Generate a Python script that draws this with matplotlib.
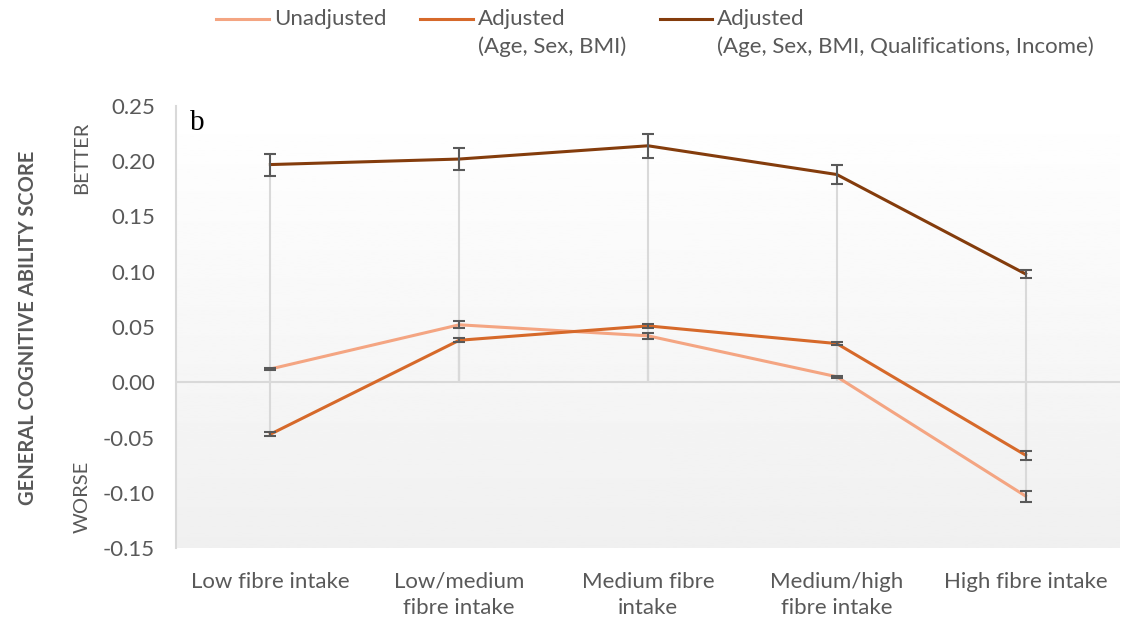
import numpy as np
import matplotlib
matplotlib.use("Agg")
import matplotlib.pyplot as plt
from matplotlib.lines import Line2D

plt.rcParams['font.family'] = ['Lato', 'DejaVu Sans']

categories = ["Low fibre intake", "Low/medium\nfibre intake", "Medium fibre\nintake",
              "Medium/high\nfibre intake", "High fibre intake"]
series_names = ["Unadjusted", "Adjusted\n(Age, Sex, BMI)",
                "Adjusted\n(Age, Sex, BMI, Qualifications, Income)"]
unadjusted = [0.012, 0.052, 0.042, 0.005, -0.103]
unadjusted_err = [0.001, 0.003, 0.003, 0.001, 0.005]
adj_basic = [-0.047, 0.038, 0.051, 0.035, -0.066]
adj_basic_err = [0.002, 0.002, 0.002, 0.001, 0.004]
adj_full = [0.197, 0.202, 0.214, 0.188, 0.098]
adj_full_err = [0.010, 0.010, 0.011, 0.009, 0.004]
yticks = [-0.15, -0.10, -0.05, 0.00, 0.05, 0.10, 0.15, 0.20, 0.25]

colors = ["#F4A582", "#D6692A", "#843C0C"]
text_col = "#595959"
grid_col = "#D9D9D9"

W, H = 1121, 624
fig = plt.figure(figsize=(W / 100, H / 100), dpi=100)
ax = fig.add_axes([176 / W, 1 - 548 / H, (1120 - 176) / W, (548 - 106) / H])

x = np.arange(len(categories))
ax.set_xlim(-0.5, len(categories) - 0.5)
ax.set_ylim(-0.15, 0.25)

# gradient background
grad = np.linspace(1.0, 0.94, 256).reshape(-1, 1)
ax.imshow(grad, cmap="gray", vmin=0, vmax=1, aspect="auto",
          extent=[-0.5, len(categories) - 0.5, -0.15, 0.25], zorder=0)

# drop lines
all_vals = [unadjusted, adj_basic, adj_full]
for vals in all_vals:
    ax.vlines(x, 0, vals, color=grid_col, lw=1.5, zorder=1)
ax.axhline(0, color=grid_col, lw=1.5, zorder=1)

errs = [unadjusted_err, adj_basic_err, adj_full_err]
for vals, err, c in zip(all_vals, errs, colors):
    ax.plot(x, vals, color=c, lw=2.2, zorder=3)
    ax.errorbar(x, vals, yerr=err, fmt="none", ecolor="#595959", elinewidth=1.5,
                capsize=4.5, capthick=1.5, zorder=4)

for s in ["top", "right", "bottom"]:
    ax.spines[s].set_visible(False)
ax.spines["left"].set_color(grid_col)
ax.spines["left"].set_linewidth(1.5)

ax.set_yticks(yticks)
ax.set_yticklabels([f"{v:.2f}" for v in yticks], fontsize=16, color=text_col)
ax.set_xticks(x)
ax.set_xticklabels(categories, fontsize=16, color=text_col, linespacing=1.4)
ax.tick_params(axis="y", length=0, pad=15)
ax.tick_params(axis="x", length=0, pad=17)

ax.text(0.015, 0.99, "b", transform=ax.transAxes, fontsize=21,
        family="Liberation Serif", va="top", ha="left", color="black")

fig.text(28 / W, 1 - 328 / H, "GENERAL COGNITIVE ABILITY SCORE", rotation=90,
         fontsize=14.5, fontweight="bold", color=text_col, ha="center", va="center")
fig.text(82 / W, 1 - 158 / H, "BETTER", rotation=90, fontsize=14.5,
         color=text_col, ha="center", va="center")
fig.text(82 / W, 1 - 497 / H, "WORSE", rotation=90, fontsize=14.5,
         color=text_col, ha="center", va="center")

# legend drawn by hand
leg_x = [(216, 269, 274), (420, 473, 478), (660, 712, 717)]
for (x0, x1, tx), name, c in zip(leg_x, series_names, colors):
    fig.add_artist(Line2D([x0 / W, x1 / W], [1 - 19 / H, 1 - 19 / H],
                          transform=fig.transFigure, color=c, lw=2.2))
    fig.text(tx / W, 1 - 9 / H, name, fontsize=16, color=text_col,
             ha="left", va="top", linespacing=1.45)

fig.savefig("out.png", dpi=100)
